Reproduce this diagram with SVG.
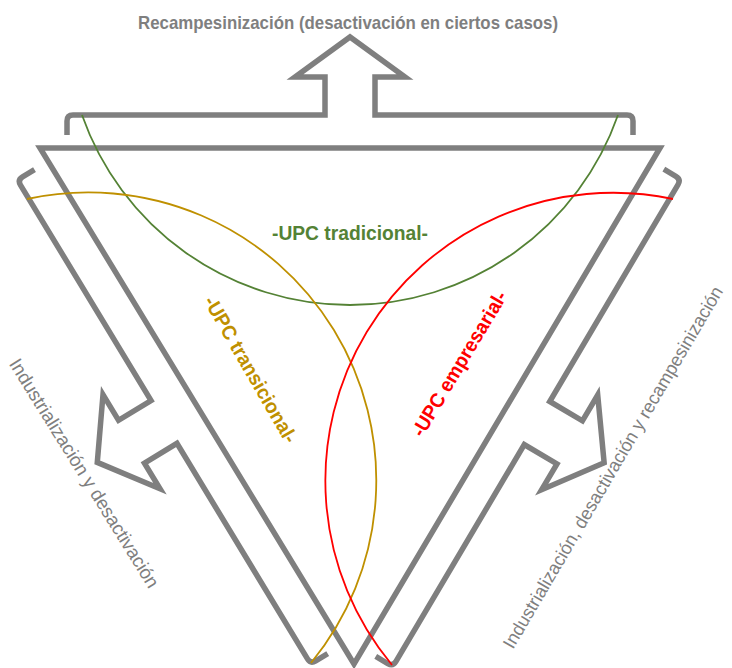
<svg xmlns="http://www.w3.org/2000/svg" xmlns:xlink="http://www.w3.org/1999/xlink" width="732" height="668" viewBox="0 0 732 668">
<style>
.shape{fill:none;stroke:#7f7f7f;stroke-width:5.5;stroke-linejoin:miter;stroke-miterlimit:10}
.arc{fill:none;stroke-width:1.8}
.lbl{font-family:"Liberation Sans",Arial,sans-serif;fill:#7f7f7f}
.upc{font-family:"Liberation Sans",Arial,sans-serif;font-weight:bold;text-anchor:middle}
</style>
<defs>
<path id="bracket" d="M -283 20 L -283 6 Q -283 0 -277 0 L -25 0 L -25 -38 L -55 -38 L 0 -78 L 55 -38 L 25 -38 L 25 0 L 277 0 Q 283 0 283 6 L 283 20"/>
</defs>
<rect width="732" height="668" fill="#ffffff"/>
<g id="triangle">
<polygon class="shape" points="40,148 660,148 354,664"/>
</g>
<g id="connectors">
<use xlink:href="#bracket" class="shape" transform="translate(350,115)"/>
<use xlink:href="#bracket" class="shape" transform="translate(164,422) rotate(-121.2)"/>
<use xlink:href="#bracket" class="shape" transform="translate(537,423) rotate(120.6)"/>
</g>
<g id="upc-tradicional">
<path class="arc" stroke="#548235" d="M 82 115 A 284 284 0 0 0 618 115"/>
<text class="upc" x="350" y="240" font-size="20" fill="#548235" textLength="156" lengthAdjust="spacingAndGlyphs">-UPC tradicional-</text>
</g>
<g id="upc-transicional">
<path class="arc" stroke="#bf9000" d="M 27 199 A 288 288 0 0 1 311 663"/>
<text class="upc" transform="translate(250,370) rotate(60)" x="0" y="6" font-size="20" fill="#bf9000" textLength="166" lengthAdjust="spacingAndGlyphs">-UPC transicional-</text>
</g>
<g id="upc-empresarial">
<path class="arc" stroke="#ff0000" d="M 673 199 A 288 288 0 0 0 392 665"/>
<text class="upc" transform="translate(460,364) rotate(-59)" x="0" y="6" font-size="20" fill="#ff0000" textLength="166" lengthAdjust="spacingAndGlyphs">-UPC empresarial-</text>
</g>
<g id="label-top">
<text class="lbl" x="348" y="29" font-size="19" font-weight="bold" text-anchor="middle" textLength="420" lengthAdjust="spacingAndGlyphs">Recampesinización (desactivación en ciertos casos)</text>
</g>
<g id="label-left">
<text class="lbl" transform="translate(83,474) rotate(58.1)" x="0" y="5" font-size="19" text-anchor="middle" textLength="266" lengthAdjust="spacingAndGlyphs">Industrialización y desactivación</text>
</g>
<g id="label-right">
<text class="lbl" transform="translate(614,468) rotate(-59.6)" x="0" y="5" font-size="18.5" text-anchor="middle" textLength="416" lengthAdjust="spacingAndGlyphs">Industrialización, desactivación y recampesinización</text>
</g>
</svg>
